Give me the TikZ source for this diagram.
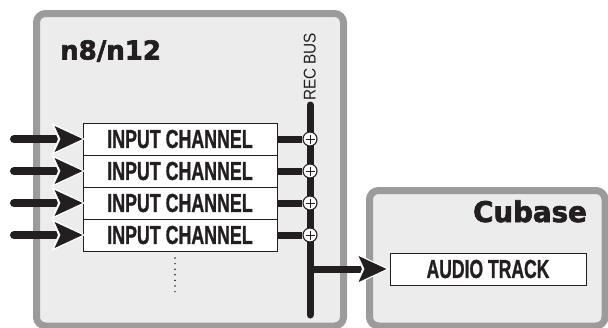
\documentclass[tikz,border=0pt]{standalone}
\usepackage{fontspec}
\setmainfont{Liberation Sans}[BoldFeatures={FakeBold=1.2}]
\newfontfamily\djfont{DejaVu Sans}[BoldFeatures={FakeBold=2.4}]
\usetikzlibrary{calc}
\definecolor{panelfill}{HTML}{ECECEC}
\definecolor{panelborder}{HTML}{9B9B9B}
\definecolor{ink}{HTML}{231F20}
\tikzset{
  panel/.style={draw=panelborder, fill=panelfill, line width=7pt, rounded corners=9pt},
  chbox/.style={draw=ink, fill=white, line width=0.9pt, minimum width=194pt, minimum height=32pt, inner sep=0pt, text=ink, font=\bfseries\fontsize{26}{26}\selectfont},
  thick line/.style={draw=ink, line width=7pt},
  sumnode/.style={circle, draw=ink, fill=white, line width=1.1pt, minimum size=14pt, inner sep=0pt,
     path picture={\draw[ink, line width=0.8pt] ($(path picture bounding box.center)+(-4.5pt,0)$) -- ($(path picture bounding box.center)+(4.5pt,0)$)
        ($(path picture bounding box.center)+(0,-4.5pt)$) -- ($(path picture bounding box.center)+(0,4.5pt)$);}},
  title/.style={text=ink, inner sep=0pt},
  pics/ahead/.style={code={
     \fill[white, line join=round] (2.5,0) -- (-31,16) -- (-24.5,0) -- (-31,-16) -- cycle;
     \fill[ink] (0,0) -- (-28,13) -- (-22,0) -- (-28,-13) -- cycle;}}
}
\begin{document}
\begin{tikzpicture}[x=1pt, y=-1pt]
\useasboundingbox (0,0) rectangle (608,327);
% panels
\path[panel] (36.5,13.5) rectangle (343.5,326);
\path[panel] (369.5,190.5) rectangle (605,326);
% titles
\node[title, anchor=base west] (t1) at (60,59.5) {\djfont\bfseries\fontsize{26}{26}\selectfont\scalebox{1.0}[1]{n8/n12}};
\node[title, anchor=base east] (t2) at (587,222) {\djfont\bfseries\fontsize{28.5}{28.5}\selectfont\scalebox{0.97}[1]{Cubase}};
% input channels
\foreach \i/\y in {1/139,2/171,3/203,4/235}{
  \node[chbox] (ch\i) at (180,\y) {\scalebox{0.685}[1]{INPUT CHANNEL}};
}
% bus
\coordinate (bustop) at (310,105);
\coordinate (busbot) at (310,315);
\draw[thick line, line cap=round] (bustop) -- (busbot);
\node[title, rotate=90, anchor=base west, font=\fontsize{17}{17}\selectfont] (rec) at (315.5,101) {\scalebox{0.9}[1]{REC BUS}};
% sums
\foreach \i/\y in {1/139,2/171,3/203,4/235}{
  \node[sumnode] (s\i) at (310,\y) {};
  \draw[thick line] (ch\i.east) -- (s\i.west);
}
% input arrows
\foreach \i/\y in {1/139,2/171,3/203,4/235}{
  \coordinate (in\i) at (14,\y);
  \draw[thick line, line width=8pt, line cap=round] (in\i) -- ($(ch\i.west)+(-24,0)$);
  \pic at (ch\i.west) {ahead};
}
% dots
\coordinate (d1) at (175,258);
\coordinate (d2) at (175,292);
\foreach \k in {0,...,6}{
  \fill[ink] ($(d1)+(0,\k*5.6)$) circle (0.85pt);
}
% audio track
\node[chbox, minimum width=196pt] (at) at (488,269) {\scalebox{0.675}[1]{AUDIO TRACK}};
\coordinate (tap) at (310,269);
\draw[thick line] (tap) -- ($(at.west)+(-26,0)$);
\pic at ($(at.west)+(-3,0)$) {ahead};
\end{tikzpicture}
\end{document}
